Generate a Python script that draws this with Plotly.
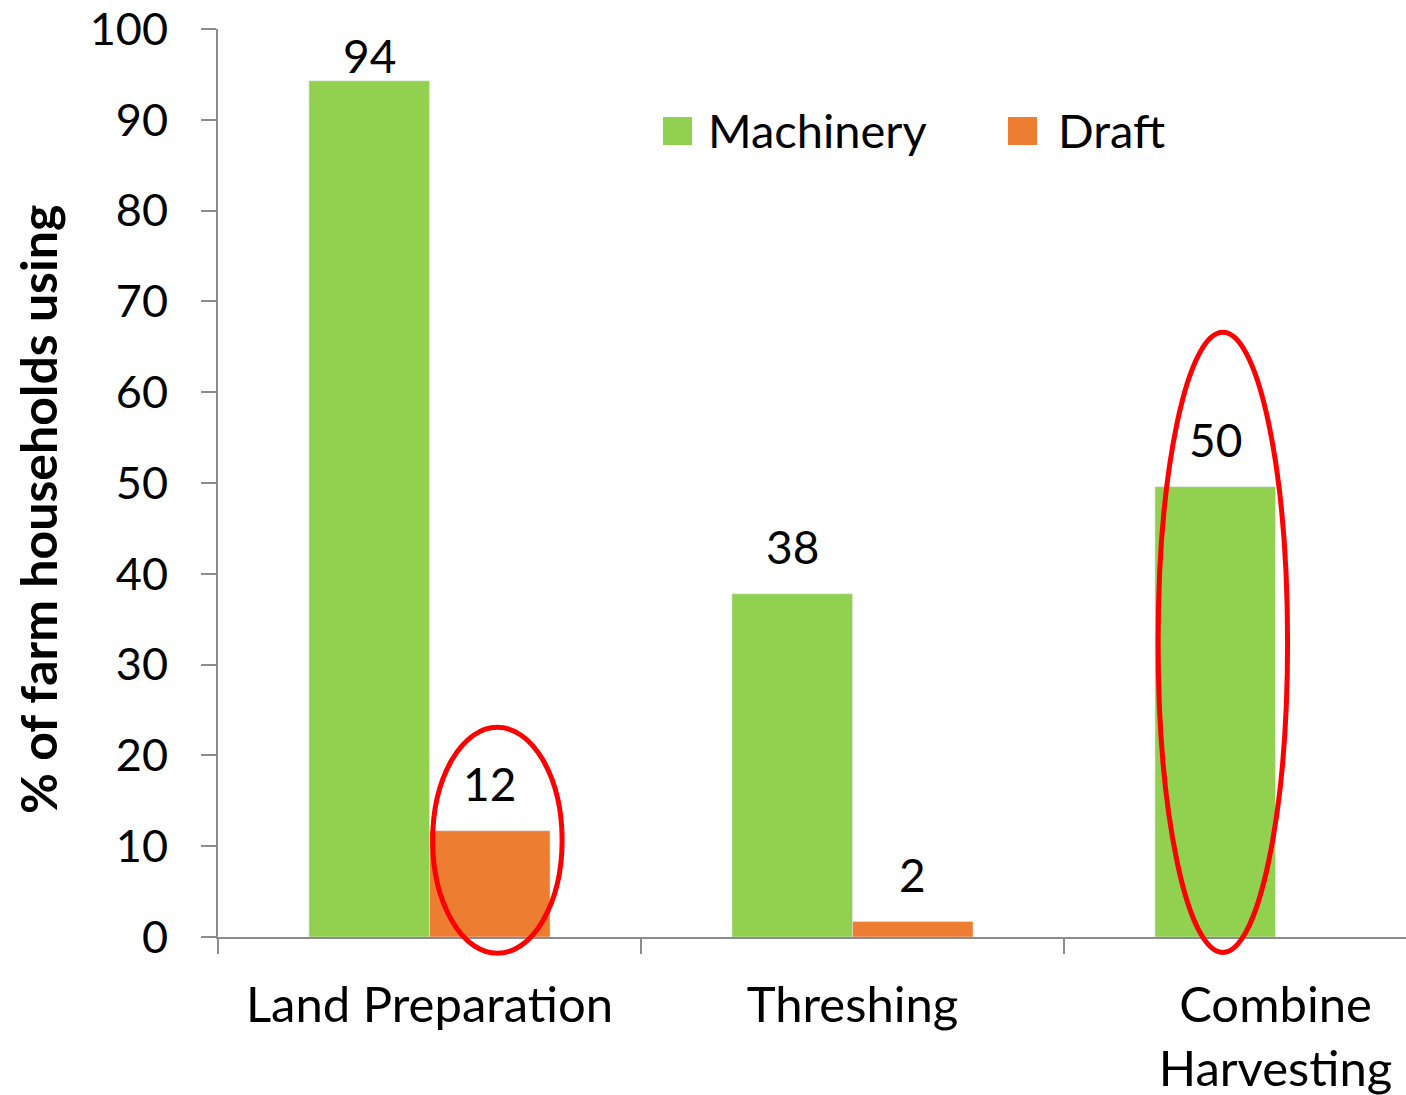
import plotly.graph_objects as go

categories = ["Land Preparation", "Threshing", "Combine<br>Harvesting"]
machinery = [94.3, 37.8, 49.6]
draft = [11.7, 1.7, None]
y_ticks = [0, 10, 20, 30, 40, 50, 60, 70, 80, 90, 100]

GREEN = "#92D050"
ORANGE = "#ED7D31"
AXIS = "#8C8C8C"
FONT = "Lato"
BAR_GAP = 0.43
BAR_W = (1 - BAR_GAP) / 2
Y_MIN, Y_MAX = 0, 100

W, H = 1406, 1095
PLOT_L, PLOT_T, PLOT_B = 218, 29, 937
L, T, B = PLOT_L, PLOT_T, H - PLOT_B
pw, ph = W - L, H - T - B
CAT_PX = 423
LABEL_GAP = 18      # px label offset above bar top
LABEL_ROOM = 56     # px needed between label and plot top

fig = go.Figure()
series = [("Machinery", machinery, GREEN, -1), ("Draft", draft, ORANGE, +1)]
for name, vals, col, side in series:
    fig.add_trace(go.Bar(x=categories, y=vals, name=name, marker_color=col))
    # value labels above each bar (kept inside the plot area near the top)
    for cat, v in zip(categories, vals):
        if v is None:
            continue
        room = (Y_MAX - v) * ph / (Y_MAX - Y_MIN)
        fig.add_annotation(x=cat, y=v, text=f"{v:.0f}", showarrow=False,
                           xshift=side * BAR_W / 2 * CAT_PX, yanchor="bottom",
                           yshift=min(LABEL_GAP, room - LABEL_ROOM),
                           font=dict(size=46, color="black", family=FONT))

def ydom(v):
    return (v - Y_MIN) / (Y_MAX - Y_MIN)

# red ellipses highlighting bars: (category index, series side -1 machinery/+1 draft, y bottom, y top)
highlights = [(0, +1, -1.8, 23.1), (2, -1, -1.7, 66.6)]
for idx, side, yb, yt in highlights:
    cx = idx + side * BAR_W / 2 + 0.018
    hw = 0.153
    fig.add_shape(type="circle", xref="x", yref="y domain", x0=cx - hw, x1=cx + hw,
                  y0=ydom(yb), y1=ydom(yt), line=dict(color="#FF0000", width=5))

def px(x):
    return (x - PLOT_L) / pw
def py(y):
    return (PLOT_B - y) / ph

# manual legend (large square swatches)
legend_items = [("Machinery", GREEN, 663, 706), ("Draft", ORANGE, 1008, 1056)]
for name, col, x0, xt in legend_items:
    fig.add_shape(type="rect", xref="paper", yref="paper", x0=px(x0), x1=px(x0 + 29),
                  y0=py(145), y1=py(117), fillcolor=col, line=dict(width=0))
    fig.add_annotation(xref="paper", yref="paper", x=px(xt), y=py(130), text=name,
                       showarrow=False, xanchor="left", yanchor="middle",
                       font=dict(size=47, color="black", family=FONT))

fig.add_annotation(xref="paper", yref="paper", x=px(38), y=py(510),
                   text="<b>% of farm households using</b>", textangle=-90,
                   showarrow=False, xanchor="center", yanchor="middle",
                   font=dict(size=50, color="black", family=FONT))

fig.update_layout(
    width=W, height=H,
    margin=dict(l=L, r=0, t=T, b=B, pad=0, autoexpand=False),
    plot_bgcolor="white", paper_bgcolor="white",
    barmode="group", bargap=BAR_GAP, bargroupgap=0,
    showlegend=False,
    font=dict(family=FONT, size=44, color="black"),
)
fig.update_xaxes(type="category", range=[-0.5, -0.5 + pw / CAT_PX], tickson="boundaries",
                 ticks="outside", ticklen=15, tickwidth=2, tickcolor=AXIS, automargin=False,
                 showline=True, linecolor=AXIS, linewidth=2, showgrid=False,
                 ticklabelstandoff=24, ticklabeloverflow="allow",
                 tickfont=dict(size=49, family=FONT))
fig.update_yaxes(range=[Y_MIN, Y_MAX], tickvals=y_ticks, ticks="outside", ticklen=15, tickwidth=2,
                 tickcolor=AXIS, showline=True, linecolor=AXIS, linewidth=2, automargin=False,
                 showgrid=False, zeroline=False, ticklabelstandoff=24,
                 ticklabeloverflow="allow", tickfont=dict(size=45, family=FONT))

fig.write_html("out.html", config={"displayModeBar": False},
               post_script="document.body.style.margin='0';")
